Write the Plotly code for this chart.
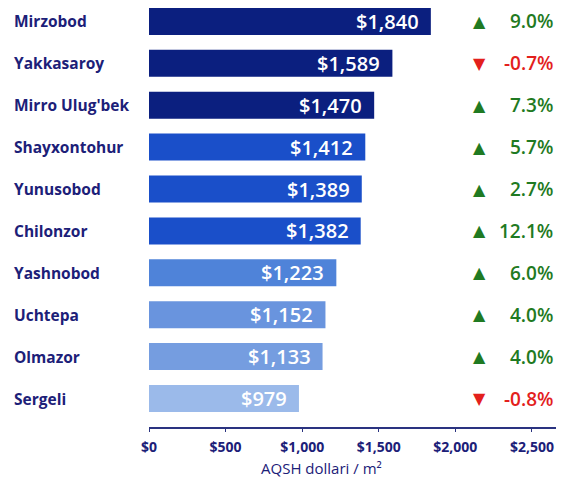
import plotly.graph_objects as go

districts = ["Mirzobod", "Yakkasaroy", "Mirro Ulug'bek", "Shayxontohur", "Yunusobod",
             "Chilonzor", "Yashnobod", "Uchtepa", "Olmazor", "Sergeli"]
prices = [1840, 1589, 1470, 1412, 1389, 1382, 1223, 1152, 1133, 979]
changes = [9.0, -0.7, 7.3, 5.7, 2.7, 12.1, 6.0, 4.0, 4.0, -0.8]
bar_colors = ["#0b1f7f", "#0b1f7f", "#0b1f7f", "#1a4fc9", "#1a4fc9", "#1a4fc9",
              "#4f83d9", "#6994de", "#759de0", "#9bbaea"]
tick_vals = [0, 500, 1000, 1500, 2000, 2500]
tick_text = ["$0", "$500", "$1,000", "$1,500", "$2,000", "$2,500"]

FONT = "Open Sans"
NAVY = "#1c2078"
GREEN = "#1f7a22"
RED = "#e3201c"

W, H = 548, 472
L, R, T, B = 141, 0, 0, 53
pw, ph = W - L - R, H - T - B

fig = go.Figure()
fig.add_trace(go.Bar(
    y=districts, x=prices, orientation="h",
    marker=dict(color=bar_colors, line=dict(width=0)),
    hoverinfo="skip",
))

ann = []
for d, p, c in zip(districts, prices, changes):
    ann.append(dict(x=p, y=d, xref="x", yref="y", text="${:,}".format(p),
                    xanchor="right", xshift=-10, showarrow=False,
                    font=dict(family=FONT, size=20, color="white", weight=600)))
    ann.append(dict(x=0, y=d, xref="paper", yref="y", text=d,
                    xanchor="left", xshift=-137, showarrow=False,
                    font=dict(family=FONT, size=15.5, color=NAVY, weight="bold")))
    col = GREEN if c >= 0 else RED
    ann.append(dict(x=2160, y=d, xref="x", yref="y", text="▲" if c >= 0 else "▼",
                    xanchor="center", showarrow=False,
                    font=dict(family="DejaVu Sans", size=16, color=col)))
    ann.append(dict(x=2650, y=d, xref="x", yref="y", text="{:.1f}%".format(c),
                    xanchor="right", showarrow=False,
                    font=dict(family=FONT, size=19, color=col, weight=600)))

ann.append(dict(x=(313 - L) / pw, y=-(460 - ph) / ph, xref="paper", yref="paper",
                text="AQSH dollari / m²", showarrow=False,
                xanchor="center", yanchor="middle",
                font=dict(family=FONT, size=15, color=NAVY)))

fig.update_layout(
    width=W, height=H,
    margin=dict(l=L, r=R, t=T, b=B),
    paper_bgcolor="white", plot_bgcolor="white",
    bargap=0.356, showlegend=False,
    annotations=ann,
    xaxis=dict(range=[0, 2657], tickvals=tick_vals, ticktext=tick_text,
               showgrid=False, zeroline=False, showline=True, linecolor="#2a3380",
               linewidth=1.5, ticks="outside", ticklen=3, tickcolor="#2a3380",
               ticklabelstandoff=3, ticklabeloverflow="allow",
               tickfont=dict(family=FONT, size=14, color=NAVY, weight="bold")),
    yaxis=dict(categoryorder="array", categoryarray=districts,
               range=[9.68, -0.32], showticklabels=False, showgrid=False,
               zeroline=False, showline=False, ticks=""),
)

fig.write_html("out.html")
